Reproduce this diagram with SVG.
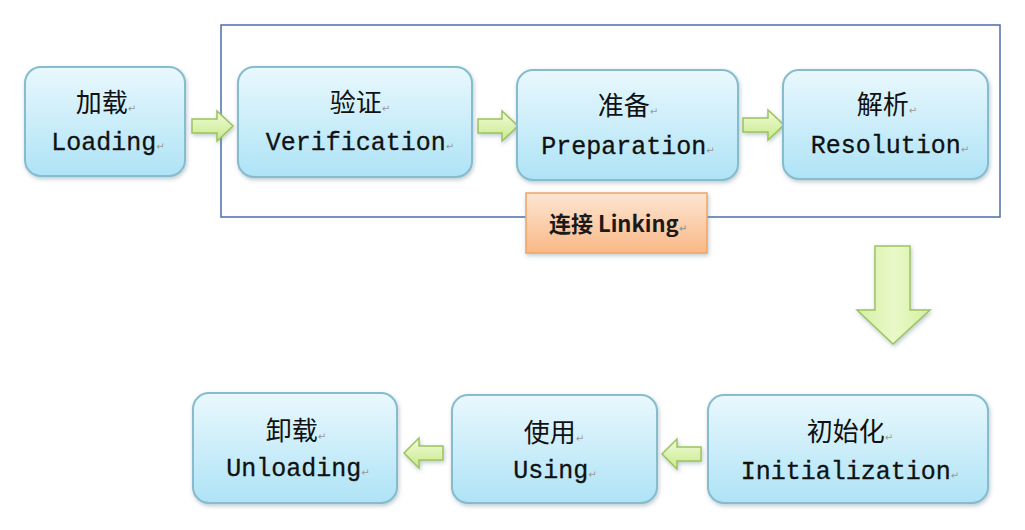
<svg xmlns="http://www.w3.org/2000/svg" width="1025" height="530" viewBox="0 0 1025 530">
<defs>
<linearGradient id="gNode" x1="0" y1="0" x2="0" y2="1">
<stop offset="0" stop-color="#e9f8fd"/>
<stop offset="1" stop-color="#aee3f6"/>
</linearGradient>
<linearGradient id="gLink" x1="0" y1="0" x2="0" y2="1">
<stop offset="0" stop-color="#fde6d2"/>
<stop offset="1" stop-color="#f9b887"/>
</linearGradient>
<linearGradient id="gArrow" x1="0" y1="0" x2="0" y2="1">
<stop offset="0" stop-color="#f2fbd9"/>
<stop offset="1" stop-color="#c7ea8a"/>
</linearGradient>
<linearGradient id="gArrowV" x1="0" y1="0" x2="1" y2="0">
<stop offset="0" stop-color="#d3efa3"/>
<stop offset="0.5" stop-color="#eaf9c8"/>
<stop offset="1" stop-color="#d3efa3"/>
</linearGradient>
<filter id="sh" x="-10%" y="-10%" width="125%" height="130%">
<feDropShadow dx="1" dy="2" stdDeviation="2" flood-color="#6a8a96" flood-opacity="0.45"/>
</filter>
</defs>
<style>
.node{fill:url(#gNode);stroke:#86bccd;stroke-width:2;filter:url(#sh)}
.cn{font-family:"Noto Sans CJK SC",sans-serif;font-size:26px;fill:#111;text-anchor:middle}
.en{font-family:"Liberation Mono",monospace;font-size:25px;fill:#111;text-anchor:middle;stroke:#111;stroke-width:0.3}
.pm{font-family:"DejaVu Sans",sans-serif;font-size:10px;fill:#999;stroke:none}
.arr{fill:url(#gArrow);stroke:#9dc35e;stroke-width:1.5;filter:url(#sh)}
.frame{fill:none;stroke:#4a6ea8;stroke-width:1.5}
.lk{fill:url(#gLink);stroke:#f0a565;stroke-width:1.5;filter:url(#sh)}
.lkt{font-family:"Noto Sans CJK SC",sans-serif;font-size:22px;font-weight:bold;fill:#1a1a1a;text-anchor:middle}
</style>
<rect class="frame" x="221" y="25" width="779" height="192"/>
<g id="connectors">
<path class="arr" d="M192 119 H217 V111 L233 126 L217 141 V133 H192 Z"/>
<path class="arr" d="M478 119 H502 V111 L518 126 L502 141 V133 H478 Z"/>
<path class="arr" d="M743 118 H768 V110 L784 125 L768 140 V132 H743 Z"/>
<path class="arr" d="M443 446 H419 V438 L404 453 L419 468 V460 H443 Z"/>
<path class="arr" d="M701 447 H677 V439 L662 454 L677 469 V461 H701 Z"/>
<path fill="url(#gArrowV)" stroke="#9dc35e" stroke-width="1.5" filter="url(#sh)" d="M875 246 H910 V310 H930 L893 344 L857 310 H875 Z"/>
</g>
<g id="loading">
<rect class="node" x="25" y="67" width="160" height="109" rx="16"/>
<text class="cn" x="106" y="112">加载<tspan class="pm">↵</tspan></text>
<text class="en" x="108" y="150">Loading<tspan class="pm">↵</tspan></text>
</g>
<g id="verification">
<rect class="node" x="238" y="67" width="234" height="110" rx="16"/>
<text class="cn" x="360" y="112">验证<tspan class="pm">↵</tspan></text>
<text class="en" x="360" y="150">Verification<tspan class="pm">↵</tspan></text>
</g>
<g id="preparation">
<rect class="node" x="517" y="70" width="221" height="110" rx="16"/>
<text class="cn" x="628" y="115">准备<tspan class="pm">↵</tspan></text>
<text class="en" x="628" y="154">Preparation<tspan class="pm">↵</tspan></text>
</g>
<g id="resolution">
<rect class="node" x="783" y="70" width="205" height="109" rx="16"/>
<text class="cn" x="887" y="114">解析<tspan class="pm">↵</tspan></text>
<text class="en" x="890" y="153">Resolution<tspan class="pm">↵</tspan></text>
</g>
<g id="linking">
<rect class="lk" x="526" y="193" width="181" height="60"/>
<text class="lkt" x="618" y="232">连接 Linking<tspan class="pm">↵</tspan></text>
</g>
<g id="unloading">
<rect class="node" x="193" y="393" width="204" height="110" rx="16"/>
<text class="cn" x="296" y="440">卸载<tspan class="pm">↵</tspan></text>
<text class="en" x="298" y="476">Unloading<tspan class="pm">↵</tspan></text>
</g>
<g id="using">
<rect class="node" x="452" y="395" width="205" height="108" rx="16"/>
<text class="cn" x="554" y="442">使用<tspan class="pm">↵</tspan></text>
<text class="en" x="555" y="478">Using<tspan class="pm">↵</tspan></text>
</g>
<g id="initialization">
<rect class="node" x="708" y="395" width="280" height="108" rx="16"/>
<text class="cn" x="850" y="441">初始化<tspan class="pm">↵</tspan></text>
<text class="en" x="850" y="479">Initialization<tspan class="pm">↵</tspan></text>
</g>
</svg>
